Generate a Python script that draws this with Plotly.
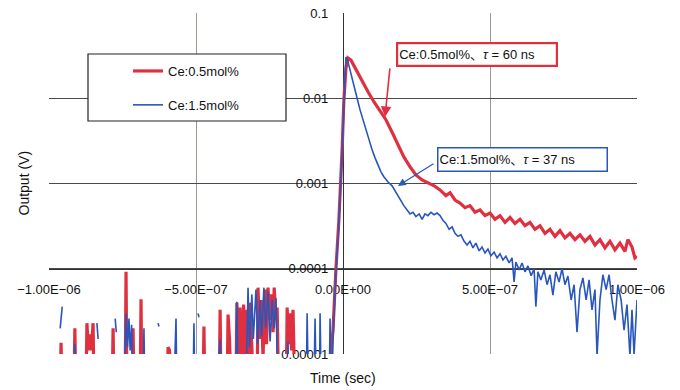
import plotly.graph_objects as go

# ---------------- data (time in ns, output in V) ----------------
red_t_neg = [-1000, -962, -959, -956, -915, -912, -909, -874, -871, -866, -861, -856, -850, -847,
             -785, -782, -779, -741, -738, -735, -717, -714, -711, -690, -687, -684,
             -598, -595, -590, -585, -476, -473, -470, -421, -418, -415, -394, -391, -386, -381,
             -364, -361, -355, -350, -344, -338, -333, -327, -321, -316, -310, -305,
             -292, -289, -284, -278, -272, -266, -260, -255, -250, -244, -238, -234, -229, -224, -219,
             -193, -190, -185, -180, -175, -170, -164, -140, -136, -132, -60, -44]
red_v_neg = [4e-6, 4e-6, 1.35e-5, 4e-6, 4e-6, 2.0e-5, 4e-6, 4e-6, 2.3e-5, 1.1e-5, 1.7e-5, 1.1e-5, 2.3e-5, 4e-6,
             4e-6, 2.0e-5, 4e-6, 4e-6, 9.2e-5, 4e-6, 4e-6, 2.0e-5, 4e-6, 4e-6, 4.4e-5, 4e-6,
             4e-6, 1.2e-5, 1.1e-5, 4e-6, 4e-6, 2.1e-5, 4e-6, 4e-6, 3.3e-5, 4e-6, 4e-6, 2.9e-5, 1.5e-5, 4e-6,
             4e-6, 4.0e-5, 8e-6, 3.5e-5, 6e-6, 3.8e-5, 8e-6, 3.3e-5, 7e-6, 4.0e-5, 1.2e-5, 4e-6,
             4e-6, 6.0e-5, 1.5e-5, 4.3e-5, 9e-6, 5.7e-5, 1.3e-5, 6.0e-5, 2.5e-5, 5.0e-5, 1.8e-5, 6.0e-5, 3.0e-5, 3.5e-5, 4e-6,
             4e-6, 3.5e-5, 1.3e-5, 3.0e-5, 1.1e-5, 3.3e-5, 4e-6, 4e-6, 1.0e-5, 4e-6, 4e-6, 8e-6]

red_t_pos = [-34, -24, -14, -3, 3, 10, 17, 27, 44, 65, 85, 105, 126, 146, 167, 187, 207, 228, 248, 269,
             289, 310, 330, 350, 364, 381, 398, 415, 432, 449, 466, 483, 500, 517, 534, 551, 568, 585,
             602, 619, 636, 653, 670, 687, 704, 721, 738, 755, 772, 789, 806, 823, 840, 857, 874, 891,
             908, 925, 942, 959, 969, 983, 993, 1000]
red_v_pos = [1.9e-5, 1e-4, 3.7e-4, 2.5e-3, 9.5e-3, 0.0226, 0.0297, 0.028, 0.0215, 0.0155, 0.0119, 0.0091,
             0.0071, 0.0056, 0.0040, 0.00284, 0.00205, 0.00157, 0.00126, 0.00110,
             0.00101, 0.00094, 0.00084, 0.00072, 0.00078, 0.00064, 0.00059, 0.00052, 0.00055, 0.00046,
             0.00049, 0.00042, 0.00045, 0.00038, 0.00042, 0.00035, 0.0004, 0.00034,
             0.00038, 0.00032, 0.00035, 0.00029, 0.00032, 0.00026, 0.00029, 0.00024, 0.00028, 0.00023,
             0.00026, 0.00022, 0.00025, 0.00021, 0.00024, 0.00019, 0.00022, 0.000176,
             0.00021, 0.000167, 0.0002, 0.00016, 0.00022, 0.00018, 0.000134, 0.00014]

blue_t_neg = [-1000, -965, -963, -962, -955, -953, -915, -912, -909, -840, -837, -833, -830,
              -776, -775, -771, -768, -745, -738, -733, -728, -724, -719, -715, -680, -677, -674,
              -630, -629, -626, -624, -575, -568, -565, -510, -507, -504, -494, -493, -490, -488,
              -428, -418, -412, -364, -361, -357,
              -330, -323, -318, -310, -305, -296, -290, -282, -277, -269, -263, -255, -248, -241, -234, -228, -222,
              -190, -187, -184, -125, -122, -118, -99, -95, -91, -80, -78, -74, -47, -44, -40, -36]
blue_v_neg = [4e-6, 4e-6, None, 2.0e-5, 3.6e-5, None, 4e-6, 1.3e-5, 4e-6, None, 2.3e-5, 1.5e-5, None,
              None, 2.6e-5, 1.8e-5, None, 4e-6, 3.0e-5, 1.2e-5, 2.6e-5, 1.1e-5, 2.2e-5, 4e-6, 4e-6, 2.0e-5, 4e-6,
              None, 2.3e-5, 2.1e-5, None, 4e-6, 2.6e-5, 4e-6, 4e-6, 2.3e-5, 4e-6, None, 3.0e-5, 2.7e-5, None,
              4e-6, 1.5e-5, 4e-6, 4e-6, 4.1e-5, 4e-6,
              4e-6, 6.0e-5, 1.2e-5, 5.0e-5, 1.5e-5, 5.7e-5, 1.3e-5, 4.3e-5, 1.6e-5, 6.0e-5, 2.0e-5, 5.4e-5, 1.4e-5, 4.3e-5, 2.0e-5, 4.5e-5, 4e-6,
              4e-6, 1.4e-5, 4e-6, 4e-6, 3.0e-5, 4e-6, 4e-6, 2.6e-5, 4e-6, 4e-6, 3.0e-5, 4e-6, 4e-6, 2.6e-5, 4e-6, 6e-6]

blue_t_pos = [-34, -24, -14, -3, 3, 10, 17, 27, 37, 48, 58, 68, 78, 88, 99, 109, 119, 129, 139, 153, 167,
              177, 187, 197, 207, 218, 228, 238, 248, 259, 269, 279, 289, 299, 310, 320, 330, 340, 350,
              361, 371, 381, 391, 401, 412, 422, 432, 442, 452, 463, 473, 483, 493, 503, 514, 524, 534,
              544, 554, 565, 575, 582, 588, 599, 609, 619, 629, 640, 650, 656, 663, 673, 684, 694, 704,
              714, 724, 735, 745, 755, 765, 776, 786, 796, 806, 816, 827, 837, 847, 857, 864, 874, 884,
              895, 905, 915, 925, 935, 946, 956, 966, 976, 983, 990, 1000]
blue_v_pos = [1.5e-5, 9e-5, 3.5e-4, 2.4e-3, 9.8e-3, 0.0305, 0.0267, 0.0193, 0.0132, 0.0100, 0.0073, 0.0056,
              0.00425, 0.00324, 0.00248, 0.0020, 0.00165, 0.00137, 0.0012, 0.00104, 0.00094,
              0.00082, 0.00072, 0.00061, 0.00055, 0.00049, 0.00044, 0.00046, 0.00041, 0.00044, 0.00038,
              0.00044, 0.00042, 0.00046, 0.00043, 0.00045, 0.00042, 0.00037, 0.00034,
              0.00029, 0.00031, 0.00026, 0.00024, 0.00025, 0.00021, 0.00019, 0.00021, 0.000176, 0.0002,
              0.000162, 0.00018, 0.000153, 0.00017, 0.000142, 0.000157, 0.000134, 0.00015,
              0.000127, 0.00014, 0.000117, 0.000134, 7.0e-5, 0.00012, 9.7e-5, 0.000117, 9.2e-5, 0.000108,
              8.3e-5, 0.0001, 3.6e-5, 9.2e-5, 7.4e-5, 9.7e-5, 6.5e-5, 8.5e-5,
              4.9e-5, 9.2e-5, 7.0e-5, 0.0001, 6.5e-5, 8.2e-5, 4.3e-5, 6.5e-5, 1.8e-5, 5.7e-5, 7.8e-5,
              4.3e-5, 7.4e-5, 3.3e-5, 5.7e-5, 9.5e-6, 4.3e-5, 8.5e-5,
              5.7e-5, 8.5e-5, 4.3e-5, 2.5e-5, 6.5e-5, 4.3e-5, 1.9e-5, 3.8e-5, 9.5e-6, 3.3e-5, 9.8e-6, 4.3e-5]

series_names = ["Ce:0.5mol%", "Ce:1.5mol%"]
x_tickvals = [-1e-6, -5e-7, 0, 5e-7, 1e-6]
x_ticktext = ["\u22121.00E\u221206", "\u22125.00E\u221207", "0.00E+00", "5.00E\u221207", "1.00E\u221206"]
y_tickvals = [1e-5, 1e-4, 1e-3, 1e-2, 1e-1]
y_ticktext = ["0.00001", "0.0001", "0.001", "0.01", "0.1"]
label_red = "Ce:0.5mol%\u3001<i>\u03c4</i> = 60 ns"
label_blue = "Ce:1.5mol%\u3001<i>\u03c4</i> = 37 ns"

assert len(red_t_neg) == len(red_v_neg) and len(red_t_pos) == len(red_v_pos)
assert len(blue_t_neg) == len(blue_v_neg) and len(blue_t_pos) == len(blue_v_pos)

red_t = [v * 1e-9 for v in red_t_neg + red_t_pos]
red_v = red_v_neg + red_v_pos
blue_t = [v * 1e-9 for v in blue_t_neg + blue_t_pos]
blue_v = blue_v_neg + blue_v_pos

RED = "#e0303f"
BLUE = "#2856bd"
FONT = "Liberation Sans, Arial, Noto Sans CJK JP, sans-serif"

fig = go.Figure()
fig.add_trace(go.Scatter(x=red_t, y=red_v, mode="lines", name=series_names[0],
                         line=dict(color=RED, width=3.2), legendgroup="a"))
fig.add_trace(go.Scatter(x=blue_t, y=blue_v, mode="lines", name=series_names[1],
                         line=dict(color=BLUE, width=1.6), legendgroup="b"))

L, R, T, B = 49, 43, 13, 36
W, H = 680, 390
pw, ph = W - L - R, H - T - B


def px(x):
    return (x - L) / pw


def py(y):
    return (H - B - y) / ph


fig.update_layout(
    width=W, height=H,
    margin=dict(l=L, r=R, t=T, b=B, pad=0),
    paper_bgcolor="white", plot_bgcolor="white",
    font=dict(family=FONT, size=13, color="#111"),
    showlegend=True,
    legend=dict(x=px(128), y=py(56), xanchor="left", yanchor="top",
                bgcolor="rgba(0,0,0,0)", borderwidth=0,
                font=dict(size=13, color="#111"), itemwidth=30,
                tracegroupgap=14, traceorder="grouped"),
    xaxis=dict(range=[-1e-6, 1e-6], domain=[0, 1], tickvals=x_tickvals, ticktext=x_ticktext,
               showgrid=True, gridcolor="#9a9a90", gridwidth=1, zeroline=False,
               showline=True, linecolor="#333", linewidth=1.2, automargin=False,
               anchor="free", position=0.25, ticks="", ticklabelstandoff=9,
               layer="below traces", tickfont=dict(size=13, color="#111")),
    yaxis=dict(type="log", range=[-5, -1], domain=[0, 1], tickvals=y_tickvals, ticktext=y_ticktext,
               showgrid=True, gridcolor="#4a4a4a", gridwidth=1, zeroline=False,
               showline=True, linecolor="#333", linewidth=1.2, automargin=False,
               anchor="free", position=0.5, ticks="", ticklabelstandoff=12,
               layer="below traces", tickfont=dict(size=13, color="#111")),
)

# legend frame
fig.add_shape(type="rect", xref="paper", yref="paper", x0=px(88), x1=px(286), y0=py(121), y1=py(54),
              fillcolor="white", line=dict(color="#222", width=1.2), layer="above")

# axis titles
fig.add_annotation(text="Output (V)", xref="paper", yref="paper", x=px(23), y=0.5, textangle=-90,
                   xanchor="center", yanchor="middle",
                   showarrow=False, font=dict(size=14, color="#111"))
fig.add_annotation(text="Time (sec)", xref="paper", yref="paper", x=0.5, y=py(378),
                   xanchor="center", yanchor="middle",
                   showarrow=False, font=dict(size=14, color="#111"))

# callout boxes
fig.add_annotation(text=label_red, xref="paper", yref="paper", x=px(476.5), y=py(54.5),
                   xanchor="center", yanchor="middle",
                   showarrow=False, width=156, height=19, align="left", borderpad=1,
                   bordercolor=RED, borderwidth=2.2, bgcolor="white",
                   font=dict(size=13, color="#111"))
fig.add_annotation(text=label_blue, xref="paper", yref="paper", x=px(522), y=py(159.5),
                   xanchor="center", yanchor="middle",
                   showarrow=False, width=166, height=20, align="left", borderpad=1,
                   bordercolor=BLUE, borderwidth=1.5, bgcolor="white",
                   font=dict(size=13, color="#111"))

# arrows (tip in data coords; log axis uses log10)
fig.add_annotation(text="", x=1.43e-7, y=-2.219, xref="x", yref="y", showarrow=True,
                   ax=5, ay=-50, arrowhead=2, arrowsize=1.3, arrowwidth=1.6, arrowcolor=RED,
                   standoff=0, startstandoff=0)
fig.add_annotation(text="", x=1.87e-7, y=-3.028, xref="x", yref="y", showarrow=True,
                   ax=37, ay=-23, arrowhead=2, arrowsize=1.3, arrowwidth=1.2, arrowcolor=BLUE,
                   standoff=0, startstandoff=0)

fig.write_html("out.html")
